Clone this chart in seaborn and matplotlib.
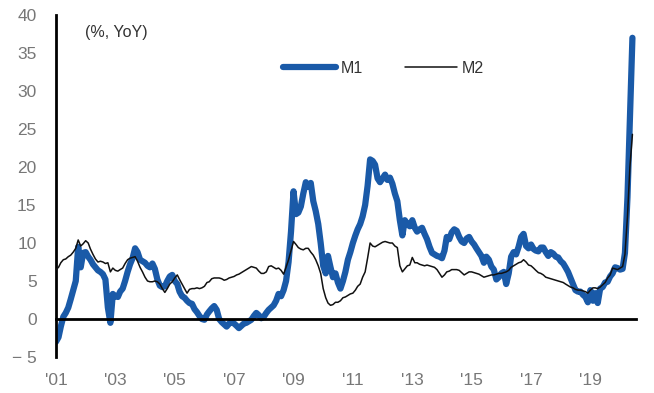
import numpy as np
import pandas as pd
import matplotlib
matplotlib.use("Agg")
import matplotlib.pyplot as plt
import seaborn as sns

# Monthly YoY growth (%), Jan 2001 - Jun 2020
m1_values = [
    -3.0, -2.4, -1.0, 0.3, 0.8, 1.5, 2.6, 3.8, 5.0, 9.5, 6.8, 8.7,        # 2001
    8.8, 8.2, 7.8, 7.2, 6.8, 6.4, 6.2, 5.9, 5.2, 1.5, -0.5, 3.3,          # 2002
    3.0, 2.9, 3.6, 4.0, 5.0, 6.2, 7.2, 8.0, 9.3, 8.8, 7.8, 7.6,           # 2003
    7.4, 7.0, 6.8, 7.3, 6.6, 5.2, 4.4, 4.2, 4.3, 5.0, 5.6, 5.8,           # 2004
    5.0, 4.6, 3.6, 3.0, 2.8, 2.4, 2.1, 2.0, 1.3, 0.9, 0.4, 0.0,           # 2005
    -0.1, 0.6, 1.0, 1.4, 1.7, 1.2, 0.0, -0.4, -0.7, -1.0, -0.6, -0.4,     # 2006
    -0.6, -0.9, -1.2, -0.9, -0.6, -0.5, -0.3, -0.1, 0.4, 0.8, 0.5, 0.1,   # 2007
    0.3, 0.8, 1.2, 1.5, 1.8, 2.4, 3.3, 3.0, 3.8, 5.0, 7.5, 11.5,          # 2008
    16.8, 13.8, 14.0, 14.8, 16.5, 18.0, 17.4, 17.9, 15.5, 14.2, 12.5, 10.0,  # 2009
    7.0, 6.0, 8.3, 6.8, 5.5, 6.0, 4.8, 4.0, 5.0, 6.2, 7.8, 8.8,           # 2010
    10.0, 11.0, 11.8, 12.5, 13.5, 15.0, 17.5, 21.0, 20.8, 20.3, 18.5, 18.0,  # 2011
    18.5, 19.0, 18.3, 18.6, 17.8, 16.5, 15.5, 13.0, 11.0, 13.0, 12.5, 12.2,  # 2012
    13.0, 12.0, 11.5, 11.8, 12.0, 11.2, 10.5, 9.5, 8.7, 8.5, 8.3, 8.2,    # 2013
    8.0, 9.0, 10.8, 10.5, 11.4, 11.8, 11.6, 10.8, 10.2, 10.0, 10.6, 10.8, # 2014
    10.2, 9.8, 9.3, 8.8, 8.3, 7.4, 8.2, 7.8, 6.9, 6.5, 5.2, 5.5,          # 2015
    6.0, 6.2, 4.6, 6.0, 8.2, 8.8, 8.5, 9.5, 10.8, 11.2, 9.6, 9.3,         # 2016
    9.8, 9.2, 9.0, 8.9, 9.4, 9.4, 8.8, 8.3, 8.8, 8.6, 8.2, 8.1,           # 2017
    7.6, 7.3, 6.8, 6.2, 5.4, 4.6, 3.8, 3.6, 3.6, 3.2, 2.9, 2.2,           # 2018
    3.8, 2.4, 3.4, 2.1, 4.0, 4.2, 4.8, 4.9, 5.6, 6.0, 6.8, 6.7,           # 2019
    6.5, 6.6, 8.7, 16.0, 26.5, 37.0,                                      # 2020
]
m2_values = [
    6.5, 6.8, 7.4, 7.8, 7.9, 8.2, 8.4, 8.8, 9.3, 10.4, 9.6, 9.9,          # 2001
    10.3, 10.0, 9.2, 8.5, 7.9, 7.5, 7.6, 7.5, 7.3, 7.4, 6.2, 6.7,         # 2002
    6.4, 6.3, 6.5, 6.7, 7.3, 7.8, 8.0, 8.1, 8.2, 7.6, 6.8, 6.2,           # 2003
    5.5, 5.0, 4.9, 4.9, 5.0, 4.9, 4.6, 4.0, 3.5, 4.0, 4.6, 4.9,           # 2004
    5.4, 5.8, 5.2, 4.6, 4.0, 3.4, 3.9, 4.0, 4.0, 4.1, 4.0, 4.1,           # 2005
    4.3, 4.8, 4.9, 5.3, 5.4, 5.4, 5.4, 5.3, 5.1, 5.2, 5.4, 5.5,           # 2006
    5.6, 5.8, 5.9, 6.1, 6.3, 6.5, 6.7, 6.9, 6.8, 6.7, 6.3, 6.0,           # 2007
    6.0, 6.2, 6.9, 7.0, 6.8, 6.6, 6.7, 6.4, 5.9, 6.8, 7.8, 9.0,           # 2008
    10.2, 9.8, 9.4, 9.2, 9.1, 9.3, 9.3, 8.8, 8.4, 7.8, 7.0, 6.0,          # 2009
    4.0, 2.8, 2.1, 1.8, 1.9, 2.2, 2.2, 2.4, 2.8, 2.9, 3.1, 3.3,           # 2010
    3.4, 3.8, 4.3, 4.6, 5.5, 6.2, 8.0, 10.0, 9.6, 9.5, 9.7, 9.9,          # 2011
    10.1, 10.2, 10.1, 10.0, 10.0, 9.6, 9.4, 7.0, 6.2, 6.6, 7.0, 7.1,      # 2012
    8.1, 7.4, 7.4, 7.2, 7.1, 7.0, 7.1, 7.0, 6.9, 6.8, 6.5, 6.0,           # 2013
    5.5, 5.8, 6.2, 6.3, 6.5, 6.5, 6.5, 6.4, 6.1, 5.8, 6.0, 6.2,           # 2014
    6.2, 6.1, 6.0, 5.9, 5.7, 5.5, 5.6, 5.7, 5.8, 5.8, 5.9, 6.0,           # 2015
    6.0, 6.1, 6.2, 6.4, 6.8, 7.0, 7.2, 7.4, 7.5, 7.8, 7.5, 7.1,           # 2016
    7.0, 6.7, 6.4, 6.1, 6.0, 5.8, 5.5, 5.4, 5.3, 5.2, 5.1, 5.0,           # 2017
    4.9, 4.8, 4.6, 4.4, 4.2, 4.1, 3.9, 3.8, 3.8, 3.7, 3.6, 3.4,           # 2018
    3.8, 4.1, 4.1, 4.0, 4.2, 4.5, 4.8, 5.4, 5.8, 6.7, 6.6, 6.5,           # 2019
    6.7, 6.9, 8.5, 13.5, 20.0, 24.3,                                      # 2020
]
dates = pd.date_range("2001-01-01", periods=len(m1_values), freq="MS")

tick_years = [2001, 2003, 2005, 2007, 2009, 2011, 2013, 2015, 2017, 2019]
tick_labels = ["'01", "'03", "'05", "'07", "'09", "'11", "'13", "'15", "'17", "'19"]
y_ticks = [-5, 0, 5, 10, 15, 20, 25, 30, 35, 40]
y_labels = ["\u2212 5", "0", "5", "10", "15", "20", "25", "30", "35", "40"]

df = pd.DataFrame({"date": dates, "M1": m1_values, "M2": m2_values})

sns.set_style("white")
plt.rcParams["font.family"] = ["Liberation Sans", "DejaVu Sans"]

fig = plt.figure(figsize=(6.54, 3.93), dpi=100)
ax = fig.add_axes([56 / 654, 1 - 357 / 393, 580 / 654, 342 / 393])

sns.lineplot(data=df, x="date", y="M1", ax=ax, color="#1a5aa8", linewidth=4.5,
             label="M1", zorder=2)
sns.lineplot(data=df, x="date", y="M2", ax=ax, color="#111111", linewidth=1.1,
             label="M2", zorder=3)

ax.set_ylim(-5, 40)
ax.set_xlim(pd.Timestamp("2001-01-01"), pd.Timestamp("2020-07-15"))
ax.set_xlabel("")
ax.set_ylabel("")

ax.set_yticks(y_ticks)
ax.set_yticklabels(y_labels)
ax.set_xticks([pd.Timestamp(f"{y}-01-01") for y in tick_years])
ax.set_xticklabels(tick_labels)

for s in ["top", "right"]:
    ax.spines[s].set_visible(False)
ax.spines["bottom"].set_position(("data", 0))
ax.spines["bottom"].set_linewidth(2.0)
ax.spines["bottom"].set_color("black")
ax.spines["left"].set_linewidth(2.0)
ax.spines["left"].set_color("black")

ax.tick_params(axis="y", length=0, pad=14, labelsize=12.5, labelcolor="#777777")
ax.tick_params(axis="x", direction="out", length=4, width=1.8, color="black",
               pad=35, labelsize=12.5, labelcolor="#777777")

ax.text(0.05, 0.95, "(%, YoY)", transform=ax.transAxes, fontsize=11.5,
        color="#333333", ha="left", va="center")

leg = ax.legend(loc="center", bbox_to_anchor=(0.565, 0.845), ncol=2, frameon=False,
                fontsize=11.5, handlelength=3.3, columnspacing=2.6, handletextpad=0.3)
for t in leg.get_texts():
    t.set_color("#333333")

fig.savefig("out.png", dpi=100)
